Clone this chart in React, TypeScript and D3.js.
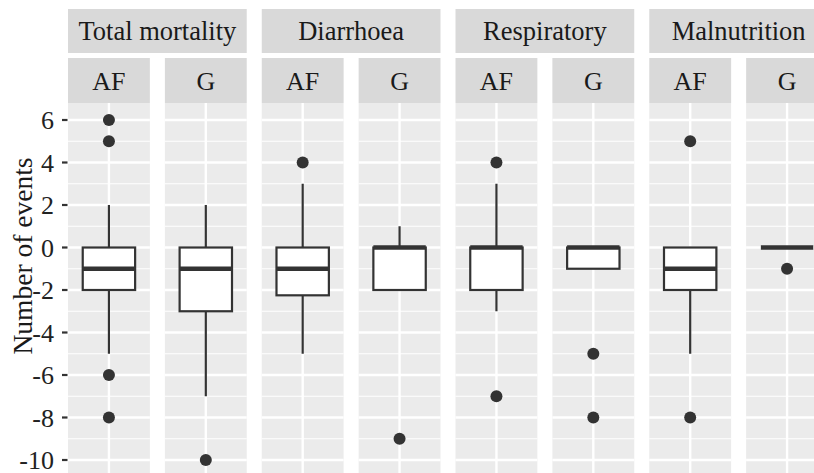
import React from "react";
import * as d3 from "d3";

const causes = ["Total mortality", "Diarrhoea", "Respiratory", "Malnutrition"];
const groups = ["AF", "G"];
// box statistics per panel, in order cause × group
const lowerWhisker = [-5, -7, -5, -2, -3, -1, -5, 0];
const q1 = [-2, -3, -2.25, -2, -2, -1, -2, 0];
const medians = [-1, -1, -1, 0, 0, 0, -1, 0];
const q3 = [0, 0, 0, 0, 0, 0, 0, 0];
const upperWhisker = [2, 2, 3, 1, 3, 0, 0, 0];
const outliers = [[6, 5, -6, -8], [-10], [4], [-9], [4, -7], [-5, -8], [5, -8], [-1]];
const yTicks = [-10, -8, -6, -4, -2, 0, 2, 4, 6];
const yMinor = [-9, -7, -5, -3, -1, 1, 3, 5];
const yTitle = "Number of events";

const W = 814;
const H = 473;
const FONT = "'Liberation Serif', 'Times New Roman', serif";

export default function App() {
  const panels = causes.flatMap((c) => groups.map((g) => `${c}|${g}`));
  const x = d3.scaleBand<string>().domain(panels).range([68, 828]).paddingInner(0.155);
  const y = d3.scaleLinear().domain([-10.8, 6.8]).range([477, 103]);
  const bw = x.bandwidth();
  const step = x.step();
  const boxW = bw * 0.64;

  const outerTop = 9, outerBot = 53, innerTop = 58, innerBot = 103;
  const textCol = "#1A1A1A";
  const dark = "#333333";

  return (
    <svg
      width={W}
      height={H}
      style={{ position: "absolute", left: 0, top: 0, background: "white", fontFamily: FONT }}
    >
      {panels.map((p, i) => {
        const x0 = x(p)!;
        const cx = x0 + bw / 2;
        return (
          <g key={p}>
            <rect x={x0} y={innerBot} width={bw} height={y.range()[0] - innerBot} fill="#EBEBEB" />
            {yMinor.map((v) => (
              <line key={"m" + v} x1={x0} x2={x0 + bw} y1={y(v)} y2={y(v)} stroke="white" strokeWidth={1.2} />
            ))}
            {yTicks.map((v) => (
              <line key={"M" + v} x1={x0} x2={x0 + bw} y1={y(v)} y2={y(v)} stroke="white" strokeWidth={2.4} />
            ))}
            <line x1={cx} x2={cx} y1={innerBot} y2={y.range()[0]} stroke="white" strokeWidth={2.4} />
            <line x1={cx} x2={cx} y1={y(upperWhisker[i])} y2={y(q3[i])} stroke={dark} strokeWidth={2.2} />
            <line x1={cx} x2={cx} y1={y(q1[i])} y2={y(lowerWhisker[i])} stroke={dark} strokeWidth={2.2} />
            <rect
              x={cx - boxW / 2}
              y={y(q3[i])}
              width={boxW}
              height={Math.max(0, y(q1[i]) - y(q3[i]))}
              fill="white"
              stroke={dark}
              strokeWidth={2.2}
            />
            <line x1={cx - boxW / 2} x2={cx + boxW / 2} y1={y(medians[i])} y2={y(medians[i])} stroke={dark} strokeWidth={4.6} />
            {outliers[i].map((v, j) => (
              <circle key={j} cx={cx} cy={y(v)} r={6} fill={dark} />
            ))}
            <rect x={x0} y={innerTop} width={bw} height={innerBot - innerTop} fill="#D9D9D9" />
            <text x={cx} y={(innerTop + innerBot) / 2} dy="0.35em" textAnchor="middle" fontSize={26} fill={textCol}>
              {groups[i % groups.length]}
            </text>
          </g>
        );
      })}
      {causes.map((c) => {
        const x0 = x(`${c}|${groups[0]}`)!;
        const x1 = x0 + step + bw;
        return (
          <g key={c}>
            <rect x={x0} y={outerTop} width={x1 - x0} height={outerBot - outerTop} fill="#D9D9D9" />
            <text x={(x0 + x1) / 2} y={(outerTop + outerBot) / 2} dy="0.35em" textAnchor="middle" fontSize={26.5} fill={textCol}>
              {c}
            </text>
          </g>
        );
      })}
      {yTicks.map((v) => (
        <g key={v}>
          <line x1={62} x2={67.5} y1={y(v)} y2={y(v)} stroke={dark} strokeWidth={2.2} />
          <text x={54} y={y(v)} dy="0.35em" textAnchor="end" fontSize={26} fill="#222">
            {v}
          </text>
        </g>
      ))}
      <text transform={`translate(32, 256) rotate(-90)`} textAnchor="middle" fontSize={27.5} fill={textCol}>
        {yTitle}
      </text>
    </svg>
  );
}
